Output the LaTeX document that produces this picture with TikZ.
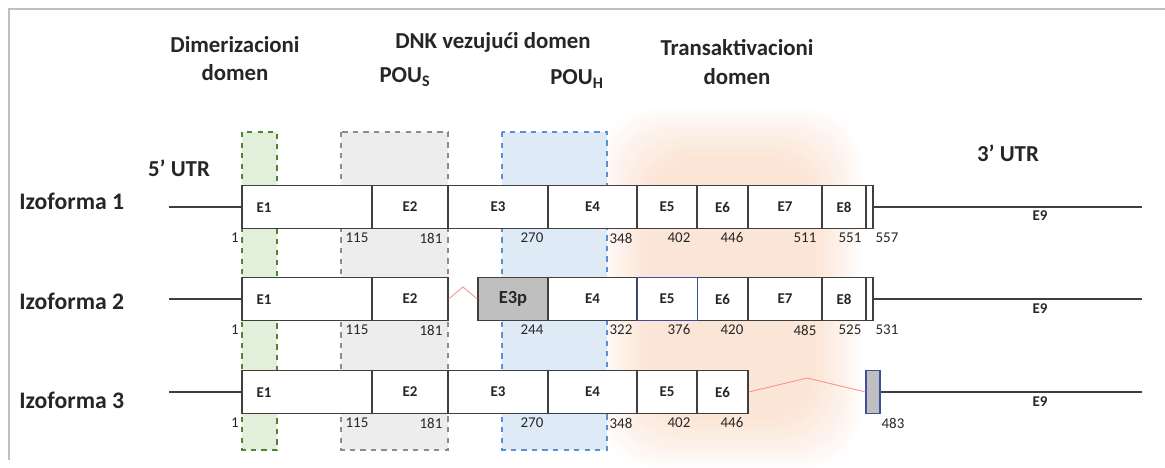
\documentclass[tikz,border=0pt]{standalone}
\usepackage{fontspec}
\setmainfont{Carlito}
\definecolor{exline}{HTML}{3F3F3F}
\definecolor{frameline}{HTML}{BFBFBF}
\definecolor{dimfill}{HTML}{E2EFDA}
\definecolor{dimline}{HTML}{548235}
\definecolor{pousfill}{HTML}{EDEDED}
\definecolor{pousline}{HTML}{8C8C8C}
\definecolor{pouhfill}{HTML}{DEEBF7}
\definecolor{pouhline}{HTML}{5B8FD5}
\definecolor{glowc}{HTML}{F4B084}
\definecolor{splicec}{HTML}{FF8F90}
\definecolor{e3pfill}{HTML}{BFBFBF}
\definecolor{blueedge}{HTML}{3F4FA0}
\begin{document}
\begin{tikzpicture}
[x=0.02cm,y=-0.02cm,
every node/.style={inner sep=0pt,text=black!85},
exon/.style={draw=exline,fill=white,line width=0.7pt,minimum height=0.86cm,font=\bfseries\fontsize{8.5}{10}\selectfont},
exlab/.style={font=\bfseries\fontsize{8.5}{10}\selectfont},
num/.style={font=\fontsize{8.5}{10}\selectfont},
head/.style={font=\bfseries\fontsize{13}{15}\selectfont,align=center},
izo/.style={font=\bfseries\fontsize{13.5}{15}\selectfont,anchor=west},
intron/.style={draw=exline,line width=1.2pt},
splice/.style={draw=splicec,line width=0.5pt},
domainbox/.style={dashed,line width=0.8pt}]
\useasboundingbox (0,0) rectangle (1165,467);

% okvir
\draw[frameline,line width=0.9pt] (9,460) -- (9,9) -- (1165,9);

% domeni
\foreach \k in {0,...,19}
  \fill[glowc,fill opacity=0.02,rounded corners=30] ({600+2.5*\k},{108+2.6*\k}) rectangle ({862-2.5*\k},{468-2.6*\k});
\filldraw[domainbox,fill=dimfill,draw=dimline] (242,132) rectangle (277,450);
\filldraw[domainbox,fill=pousfill,draw=pousline] (341,132) rectangle (448,450);
\filldraw[domainbox,fill=pouhfill,draw=pouhline] (502,132) rectangle (607,450);

% naslovi
\node[head] (dim) at (235,59) {Dimerizacioni\\[1pt]domen};
\node[head] (dnk) at (493,42) {DNK vezujući domen};
\node[head] (pous) at (405,77) {POU\textsubscript{S}};
\node[head] (pouh) at (577,79) {POU\textsubscript{H}};
\node[head] (trans) at (737,62) {Transaktivacioni\\[1pt]domen};
\node[head] (utr5) at (179,168) {5’ UTR};
\node[head] (utr3) at (1008,153) {3’ UTR};

% Izoforma 1
\node[izo] (iz1) at (19,201) {Izoforma 1};
\foreach \a/\b/\t/\n in {242/372/ /a1,372/448/E2/a2,448/548/E3/a3,548/637/E4/a4,637/697/E5/a5,697/748/E6/a6,748/822/E7/a7,822/866/E8/a8,866/873/ /a9}
  \node[exon,minimum width={(\b-\a)*0.02cm}] (\n) at ({(\a+\b)/2},207) {\t};
\node[exlab] (a1l) at (264,208) {E1};
\coordinate (a0) at (169,207);
\coordinate (a10) at (1142,207);
\draw[intron] (a0) -- (a1.west);
\draw[intron] (a9.east) -- (a10);
\node[exlab] (a9l) at (1040,216) {E9};
\foreach \x/\n in {235/1,357/115,431/181,532/270,621/348,679/402,732/446,805/511,850/551,887/557}
  \node[num] (an\n) at (\x,238) {\n};

% Izoforma 2
\node[izo] (iz2) at (19,301) {Izoforma 2};
\foreach \a/\b/\t/\n in {242/372/ /b1,372/448/E2/b2,548/637/E4/b4,697/748/E6/b6,748/822/E7/b7,822/866/E8/b8,866/873/ /b9}
  \node[exon,minimum width={(\b-\a)*0.02cm}] (\n) at ({(\a+\b)/2},299) {\t};
\node[exon,fill=e3pfill,minimum width=1.4cm,font=\bfseries\fontsize{10.5}{12}\selectfont] (b3) at (513,299) {E3p};
\node[exon,draw=blueedge,line width=0.5pt,minimum width=1.2cm] (b5) at (667,299) {E5};
\node[exlab] (b1l) at (264,300) {E1};
\coordinate (b0) at (169,299);
\coordinate (b10) at (1142,299);
\coordinate (bz) at (463,287);
\draw[intron] (b0) -- (b1.west);
\draw[intron] (b9.east) -- (b10);
\draw[splice] (b2.east) -- (bz) -- (b3.west);
\node[exlab] (b9l) at (1040,309) {E9};
\foreach \x/\n in {235/1,357/115,431/181,532/244,621/322,679/376,732/420,805/485,850/525,887/531}
  \node[num] (bn\n) at (\x,330) {\n};

% Izoforma 3
\node[izo] (iz3) at (19,400) {Izoforma 3};
\foreach \a/\b/\t/\n in {242/372/ /c1,372/448/E2/c2,448/548/E3/c3,548/637/E4/c4,637/697/E5/c5,697/748/E6/c6}
  \node[exon,minimum width={(\b-\a)*0.02cm}] (\n) at ({(\a+\b)/2},392) {\t};
\node[exon,fill=e3pfill,draw=blueedge,line width=0.6pt,minimum width=0.28cm] (c7) at (873,392) {};
\node[exlab] (c1l) at (264,393) {E1};
\coordinate (c0) at (169,392);
\coordinate (c10) at (1142,392);
\coordinate (cz) at (807,378);
\draw[intron] (c0) -- (c1.west);
\draw[intron] (c7.east) -- (c10);
\draw[splice] (c6.east) -- (cz) -- (c7.west);
\node[exlab] (c9l) at (1040,402) {E9};
\foreach \x/\n in {235/1,357/115,431/181,532/270,621/348,679/402,732/446,893/483}
  \node[num] (cn\n) at (\x,423) {\n};
\end{tikzpicture}
\end{document}
